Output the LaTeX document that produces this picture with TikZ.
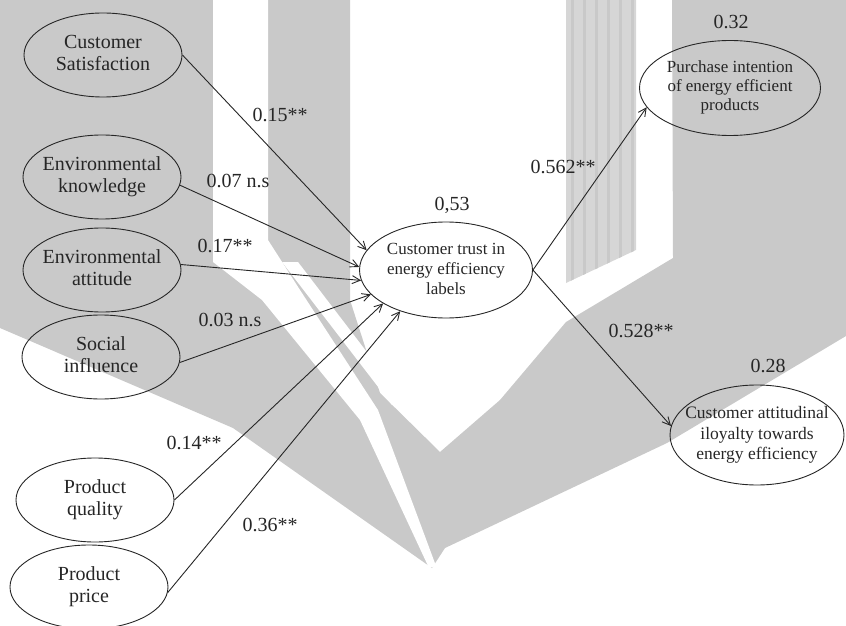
\documentclass[tikz,border=0pt]{standalone}
\usepackage{fontspec}
\setmainfont{Liberation Serif}
\usetikzlibrary{shapes.geometric,arrows.meta}
\definecolor{wm}{RGB}{201,201,201}
\definecolor{wmbar}{RGB}{214,214,214}
\definecolor{ink}{RGB}{38,38,38}
\newcommand\ztext[1]{\makebox[0pt]{\begin{tabular}{@{}c@{}}#1\end{tabular}}}
\begin{document}
\begin{tikzpicture}[x=1bp,y=-1bp,
  lat/.style={ellipse,draw=ink,line width=0.9bp,inner sep=0pt,text=ink,
    minimum width=158bp,minimum height=84bp,font=\fontsize{20bp}{22bp}\selectfont},
  mid/.style={ellipse,draw=ink,line width=0.9bp,inner sep=0pt,text=ink,
    font=\fontsize{17bp}{20bp}\selectfont},
  lab/.style={inner sep=0pt,text=ink,font=\fontsize{20bp}{22bp}\selectfont},
  arr/.style={draw=ink,line width=0.9bp,-{Straight Barb[length=8bp,width=8bp]}}]
\useasboundingbox (0,0) rectangle (846,626);
% background watermark
\fill[wm] (0,0) -- (350,0) -- (350,300) -- (380,393) -- (440,452) -- (500,400)
  -- (566,322) -- (673,258) -- (672,0) -- (846,0) -- (846,336) -- (667,443)
  -- (445,548) -- (432,568) -- (233,428) -- (0,328) -- cycle;
\fill[white] (213,0) -- (268,0) -- (268,240) -- (300,290) -- (378,410) -- (436,566)
  -- (429,568) -- (360,420) -- (262,300) -- (213,262) -- cycle;
\fill[white] (282,262) -- (298,262) -- (402,398) -- (392,405) -- cycle;
\fill[wmbar] (566,0) -- (636,0) -- (636,250) -- (566,283) -- cycle;
\begin{scope}
  \clip (566,0) -- (636,0) -- (636,250) -- (566,283) -- cycle;
  \foreach \x in {572,584,...,632} \draw[wm,line width=3bp] (\x,0) -- (\x,300);
\end{scope}
% nodes
\node[lat] (cs) at (103,55) {\ztext{Customer\\Satisfaction}};
\node[lat] (ek) at (102,177) {\ztext{Environmental\\knowledge}};
\node[lat] (ea) at (102,270) {\ztext{Environmental\\attitude}};
\node[lat] (si) at (101,357) {\ztext{Social\\influence}};
\node[lat] (pq) at (95,500) {\ztext{Product\\quality}};
\node[lat] (pp) at (89,587) {\ztext{Product\\price}};
\node[mid,minimum width=173bp,minimum height=96bp] (tr) at (446,270)
  {\ztext{Customer trust in\\energy efficiency\\labels}};
\node[mid,minimum width=181bp,minimum height=95bp,font=\fontsize{17bp}{19bp}\selectfont] (pi) at (730,88)
  {\ztext{Purchase intention\\of energy efficient\\products}};
\node[mid,minimum width=174bp,minimum height=100bp,font=\fontsize{17.5bp}{20.5bp}\selectfont] (cal) at (757,435)
  {\ztext{Customer attitudinal\\iloyalty towards\\energy efficiency}};
% R squared
\node[lab] (r1) at (452,205) {0,53};
\node[lab] (r2) at (731,22) {0.32};
\node[lab] (r3) at (768,366) {0.28};
% connectors
\draw[arr] (cs.east) -- (tr.166);
\draw[arr] (ek.354) -- (tr.178);
\draw[arr] (ea.4) -- (tr.187);
\draw[arr] (si.356) -- (tr.198);
\draw[arr] (pq.east) -- (tr.208);
\draw[arr] (pp.356) -- (tr.222);
\draw[arr] (tr.east) -- (pi.193);
\draw[arr] (tr.east) -- (cal.174);
% path labels
\node[lab] (l1) at (280,115) {0.15**};
\node[lab] (l2) at (238,181) {0.07 n.s};
\node[lab] (l3) at (225,246) {0.17**};
\node[lab] (l4) at (230,320) {0.03 n.s};
\node[lab] (l5) at (194,443) {0.14**};
\node[lab] (l6) at (270,525) {0.36**};
\node[lab] (l7) at (563,167) {0.562**};
\node[lab] (l8) at (641,331) {0.528**};
\end{tikzpicture}
\end{document}
